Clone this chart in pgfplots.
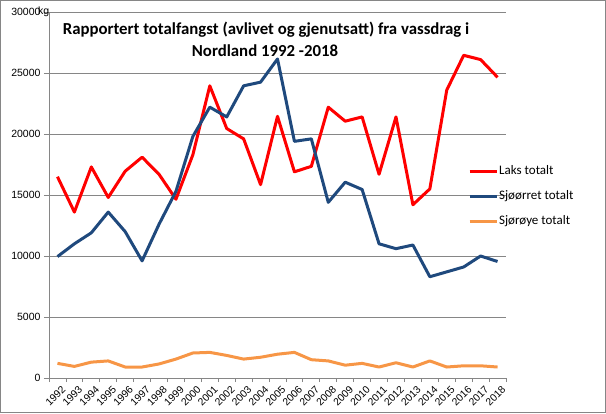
\documentclass[border=0pt]{standalone}
\usepackage{fontspec}
\setmainfont{Liberation Sans}
\newfontfamily\calibri{Carlito}
\usepackage{pgfplots}
\pgfplotsset{compat=1.18}
\usetikzlibrary{calc}
\definecolor{laks}{HTML}{FF0000}
\definecolor{sjoorret}{HTML}{1F497D}
\definecolor{sjoroye}{HTML}{F79646}
\definecolor{gridc}{HTML}{868686}
\begin{document}
\begin{tikzpicture}
\begin{axis}[
  name=ax, at={(0pt,0pt)}, anchor=south west,
  scale only axis, width=457pt, height=366pt,
  xmin=-0.5, xmax=26.5, ymin=0, ymax=30000,
  axis x line*=bottom, axis y line*=left,
  axis line style={-, gridc, line width=0.8pt},
  ytick={0,5000,...,30000},
  scaled y ticks=false,
  ymajorgrids, grid style={gridc, line width=0.8pt},
  tick align=outside, major tick length=5pt, minor tick length=4pt,
  tick style={gridc, line width=0.8pt},
  xtick={0,...,26},
  xticklabels={1992,1993,1994,1995,1996,1997,1998,1999,2000,2001,2002,2003,2004,2005,2006,2007,2008,2009,2010,2011,2012,2013,2014,2015,2016,2017,2018},
  minor xtick={-0.5,0.5,...,26.5},
  major x tick style={draw=none},
  yticklabel style={/pgf/number format/1000 sep={}, /pgf/number format/assume math mode=true, font=\fontsize{10.5}{12}\selectfont},
  xticklabel style={rotate=45, anchor=north east, font=\fontsize{10.3}{12}\selectfont, inner sep=1pt, xshift=2pt, yshift=-3pt},
  legend style={at={(0.9168,0.4954)}, anchor=west, draw=none, fill=none,
    font=\calibri\fontsize{13}{15}\selectfont, inner sep=0pt, row sep=11pt,
    nodes={inner sep=1pt, text height=9pt, text depth=3pt}},
  legend cell align=left,
  legend image code/.code={\draw[#1] (0pt,0pt) -- (27pt,0pt);},
  every axis plot/.append style={line width=3pt, line join=round, mark=none},
]
\addplot[laks] table {
x y
0 16500
1 13600
2 17300
3 14800
4 16950
5 18100
6 16700
7 14650
8 18300
9 23950
10 20450
11 19600
12 15850
13 21450
14 16900
15 17350
16 22200
17 21050
18 21400
19 16700
20 21400
21 14200
22 15500
23 23600
24 26450
25 26100
26 24650
};
\addlegendentry{Laks totalt}
\addplot[sjoorret] table {
x y
0 9950
1 11000
2 11900
3 13600
4 12000
5 9600
6 12600
7 15300
8 19800
9 22200
10 21400
11 23950
12 24250
13 26150
14 19400
15 19600
16 14400
17 16050
18 15450
19 11000
20 10600
21 10900
22 8300
23 8700
24 9100
25 10000
26 9550
};
\addlegendentry{Sjøørret totalt}
\addplot[sjoroye] table {
x y
0 1200
1 950
2 1300
3 1400
4 900
5 900
6 1150
7 1550
8 2050
9 2100
10 1850
11 1550
12 1700
13 1950
14 2100
15 1500
16 1400
17 1050
18 1200
19 900
20 1250
21 900
22 1400
23 900
24 1000
25 1000
26 900
};
\addlegendentry{Sjørøye totalt}
\end{axis}
\coordinate (O) at ($(ax.south west)+(-49pt,-35pt)$);
\node[anchor=base west, font=\fontsize{10.5}{12}\selectfont, inner sep=0pt] at ($(O)+(38pt,398pt)$) {kg};
\node[anchor=base, font=\calibri\bfseries\fontsize{16.8}{20}\selectfont, inner sep=0pt] at ($(O)+(266pt,378.5pt)$) {Rapportert totalfangst (avlivet og gjenutsatt) fra vassdrag i};
\node[anchor=base, font=\calibri\bfseries\fontsize{16.8}{20}\selectfont, inner sep=0pt] at ($(O)+(265pt,356.5pt)$) {Nordland 1992 -2018};
\draw[gridc, line width=1pt] ($(O)+(0.5pt,0.5pt)$) rectangle ($(O)+(605.5pt,412.5pt)$);
\pgfresetboundingbox
\path[use as bounding box] (O) rectangle ($(O)+(606pt,413pt)$);
\end{tikzpicture}
\end{document}
